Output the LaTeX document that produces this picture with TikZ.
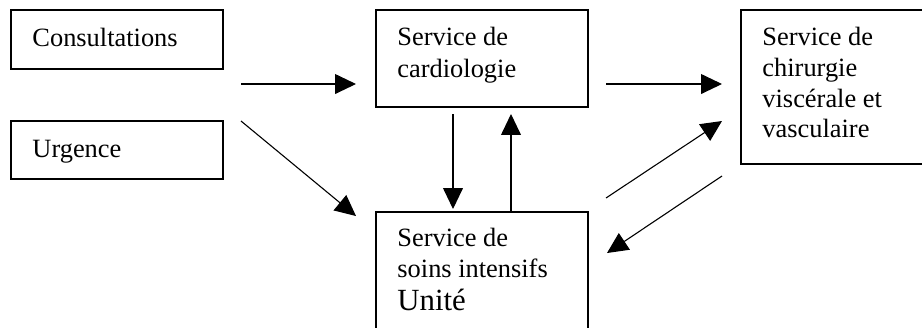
\documentclass[tikz,border=0pt]{standalone}
\usepackage{fontspec}
\setmainfont{Liberation Serif}
\usetikzlibrary{arrows.meta}
\begin{document}
\begin{tikzpicture}[x=0.4545pt,y=-0.4545pt,
  box/.style={draw,line width=0.6pt,anchor=north west,inner sep=0pt,outer sep=0pt},
  txt/.style={anchor=base west,inner sep=0pt,font=\fontsize{12}{14}\selectfont},
  big/.style={anchor=base west,inner sep=0pt,font=\fontsize{14}{16}\selectfont},
  arr/.style={line width=0.5pt,-{Triangle[length=9.5pt,width=9pt]}}]
\useasboundingbox (0,0) rectangle (922,327);
\clip (0,0) rectangle (922,327);
% boxes
\node[box,minimum width=212*0.4545pt,minimum height=59*0.4545pt] (cons) at (11,10) {};
\node[box,minimum width=212*0.4545pt,minimum height=58*0.4545pt] (urg) at (11,121) {};
\node[box,minimum width=212*0.4545pt,minimum height=97*0.4545pt] (cardio) at (376,10) {};
\node[box,minimum width=200*0.4545pt,minimum height=154*0.4545pt] (chir) at (741,10) {};
\node[box,minimum width=212*0.4545pt,minimum height=130*0.4545pt] (soins) at (376,212) {};
% texts
\node[txt] (t1) at (32,46) {Consultations};
\node[txt] (t2) at (32,157) {Urgence};
\node[txt] (t3a) at (397,45) {Service de};
\node[txt] (t3b) at (397,77) {cardiologie};
\node[txt] (t4a) at (762,45) {Service de};
\node[txt] (t4b) at (762,76) {chirurgie};
\node[txt] (t4c) at (762,107) {viscérale et};
\node[txt] (t4d) at (762,137) {vasculaire};
\node[txt] (t5a) at (397,246) {Service de};
\node[txt] (t5b) at (397,277) {soins intensifs};
\node[big] (t5c) at (397,310) {Unité};
% arrow ends
\coordinate (a1s) at (241,84);  \coordinate (a1e) at (356,84);
\coordinate (a2s) at (241,121); \coordinate (a2e) at (356,216);
\coordinate (a3s) at (453,114); \coordinate (a3e) at (453,209);
\coordinate (a4s) at (511,211); \coordinate (a4e) at (511,114);
\coordinate (a5s) at (606,84);  \coordinate (a5e) at (722,84);
\coordinate (a6s) at (606,198); \coordinate (a6e) at (722,121);
\coordinate (a7s) at (722,176); \coordinate (a7e) at (607,253);
\draw[arr] (a1s) -- (a1e);
\draw[arr] (a2s) -- (a2e);
\draw[arr] (a3s) -- (a3e);
\draw[arr] (a4s) -- (a4e);
\draw[arr] (a5s) -- (a5e);
\draw[arr] (a6s) -- (a6e);
\draw[arr] (a7s) -- (a7e);
\end{tikzpicture}
\end{document}
